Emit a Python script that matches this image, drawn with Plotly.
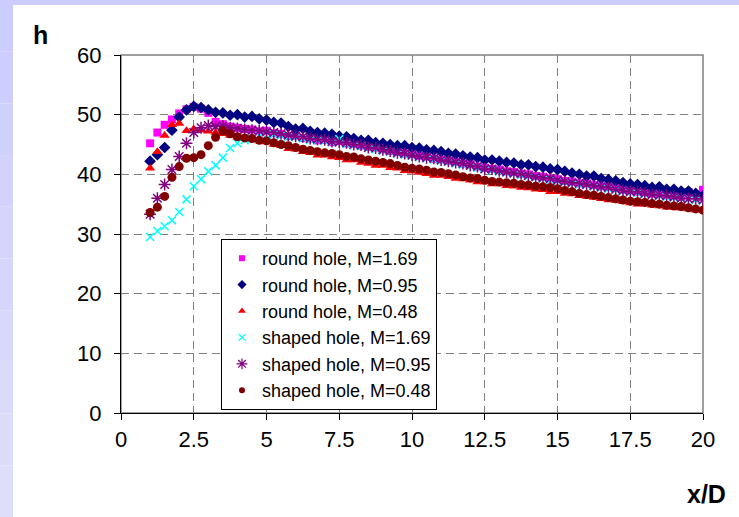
import plotly.graph_objects as go

# x/D positions (shared by all series)
x_over_D = [1.0 + 0.25 * i for i in range(77)]

round_169 = [45.2, 47.0, 48.3, 49.2,
             50.2, 50.9, 51.3, 51.0,
             50.3, 48.8, 48.4, 48.0,
             47.8, 47.6, 47.5, 47.2,
             47.3, 46.9, 46.8, 46.4,
             46.5, 46.1, 46.0, 45.7,
             45.8, 45.4, 45.6, 45.2,
             45.1, 44.8, 44.6, 44.5,
             44.2, 43.9, 43.8, 43.5,
             43.4, 43.1, 43.0, 42.6,
             42.5, 42.3, 42.1, 41.8,
             41.7, 41.3, 41.1, 40.9,
             40.8, 40.5, 40.4, 40.1,
             40.0, 39.7, 39.6, 39.3,
             39.2, 38.9, 38.8, 38.5,
             38.5, 38.2, 38.0, 37.9,
             37.7, 37.4, 37.4, 37.1,
             37.0, 36.8, 36.8, 36.5,
             36.4, 36.3, 37.0, 36.6,
             37.4]

round_095 = [42.2, 43.3, 44.5, 47.4,
             49.6, 50.8, 51.4, 51.2,
             50.8, 50.4, 50.3, 49.9,
             50.0, 49.6, 49.7, 49.3,
             49.1, 48.7, 48.6, 48.0,
             47.6, 47.7, 47.2, 47.0,
             46.9, 46.7, 46.4, 46.3,
             46.0, 45.7, 45.7, 45.3,
             45.2, 45.0, 44.8, 44.8,
             44.5, 44.4, 44.1, 44.0,
             43.8, 43.5, 43.4, 43.1,
             42.9, 42.8, 42.4, 42.4,
             42.2, 42.0, 41.9, 41.6,
             41.6, 41.3, 41.2, 40.9,
             40.8, 40.5, 40.2, 40.0,
             39.7, 39.7, 39.3, 39.1,
             38.9, 38.6, 38.4, 38.3,
             38.1, 37.8, 37.9, 37.5,
             37.5, 37.2, 37.2, 36.8,
             36.4]

round_048 = [41.0, 43.8, 46.5, 48.3,
             48.5, 47.3, 47.6, 47.4,
             47.2, 47.0, 46.8, 46.5,
             46.2, 46.0, 45.8, 45.6,
             45.4, 45.0, 44.8, 44.3,
             44.2, 43.8, 43.6, 43.2,
             43.2, 42.9, 42.8, 42.4,
             42.4, 42.0, 41.8, 41.5,
             41.5, 41.1, 41.0, 40.6,
             40.5, 40.3, 40.1, 39.8,
             39.8, 39.6, 39.3, 39.2,
             39.0, 38.7, 38.7, 38.4,
             38.4, 38.1, 38.0, 37.8,
             37.7, 37.5, 37.4, 37.1,
             37.1, 36.8, 36.7, 36.4,
             36.3, 36.1, 35.9, 35.7,
             35.6, 35.4, 35.2, 35.0,
             35.0, 34.8, 34.7, 34.5,
             34.5, 34.3, 34.2, 34.0,
             34.2]

shaped_169 = [29.5, 30.5, 31.3, 32.3,
              33.7, 35.8, 38.0, 39.2,
              40.5, 41.5, 42.8, 44.4,
              45.2, 45.7, 46.0, 46.4,
              46.6, 46.7, 46.5, 46.3,
              46.2, 46.0, 45.8, 45.7,
              45.6, 45.4, 45.9, 45.1,
              44.9, 44.7, 44.4, 44.2,
              44.0, 43.8, 43.5, 43.3,
              43.1, 42.9, 42.7, 42.5,
              42.3, 42.1, 41.8, 41.6,
              41.4, 41.1, 40.9, 40.7,
              40.5, 40.3, 40.1, 39.9,
              39.7, 39.5, 39.3, 39.1,
              38.9, 38.7, 38.5, 38.3,
              38.2, 38.0, 37.8, 37.6,
              37.4, 37.2, 37.0, 36.9,
              36.7, 36.6, 36.4, 36.2,
              36.1, 36.0, 35.8, 35.7,
              35.6]

shaped_095 = [33.3, 36.0, 38.3, 40.8,
              43.0, 45.2, 47.0, 47.8,
              48.2, 48.0, 48.1, 47.8,
              47.7, 47.5, 47.4, 47.3,
              47.1, 47.0, 46.8, 46.6,
              46.4, 46.3, 46.0, 45.9,
              45.8, 45.5, 45.4, 45.3,
              45.0, 44.9, 44.5, 44.4,
              44.1, 43.9, 43.6, 43.5,
              43.2, 43.0, 42.8, 42.7,
              42.4, 42.2, 42.0, 41.8,
              41.5, 41.3, 40.9, 40.9,
              40.6, 40.4, 40.2, 40.1,
              39.8, 39.6, 39.4, 39.3,
              39.0, 38.8, 38.6, 38.5,
              38.3, 38.1, 37.9, 37.8,
              37.5, 37.3, 37.1, 37.1,
              36.8, 36.6, 36.5, 36.4,
              36.2, 36.0, 35.9, 35.9,
              35.7]

shaped_048 = [33.6, 34.5, 36.3, 39.5,
              41.3, 42.7, 42.8, 43.3,
              44.8, 46.2, 47.3, 46.8,
              46.3, 46.1, 46.0, 45.7,
              45.6, 45.3, 45.0, 44.8,
              44.5, 44.2, 44.0, 43.8,
              43.6, 43.5, 43.3, 43.0,
              42.9, 42.6, 42.4, 42.2,
              42.0, 41.8, 41.5, 41.2,
              41.0, 40.9, 40.7, 40.4,
              40.3, 40.1, 39.9, 39.6,
              39.4, 39.3, 39.0, 38.8,
              38.7, 38.6, 38.5, 38.3,
              38.2, 38.0, 37.9, 37.8,
              37.6, 37.3, 37.1, 36.8,
              36.6, 36.5, 36.3, 36.1,
              35.9, 35.7, 35.5, 35.4,
              35.3, 35.1, 35.0, 34.8,
              34.7, 34.6, 34.4, 34.2,
              34.0]

series_names = ["round hole, M=1.69", "round hole, M=0.95", "round hole, M=0.48",
                "shaped hole, M=1.69", "shaped hole, M=0.95", "shaped hole, M=0.48"]
series_values = [round_169, round_095, round_048, shaped_169, shaped_095, shaped_048]
series_colors = ["#FF00FF", "#000080", "#FF0000", "#00FFFF", "#800080", "#800000"]
series_symbols = ["square", "diamond", "triangle-up", "x-thin-open", "asterisk-open", "circle"]
series_sizes = [8, 9, 9, 8, 10, 9]
legend_sizes = [6, 7, 7, 7, 9, 6]

x_ticks = [0, 2.5, 5, 7.5, 10, 12.5, 15, 17.5, 20]
x_tick_labels = ["0", "2.5", "5", "7.5", "10", "12.5", "15", "17.5", "20"]
y_ticks = [0, 10, 20, 30, 40, 50, 60]

W, H = 739, 517
L, R, T, B = 121, 703, 55, 413

fig = go.Figure()
for name, vals, col, sym, sz in zip(series_names, series_values, series_colors,
                                    series_symbols, series_sizes):
    fig.add_trace(go.Scatter(
        x=x_over_D, y=vals, mode="markers", name=name, legendgroup=name,
        showlegend=False,
        marker=dict(color=col, symbol=sym, size=sz,
                    line=dict(color=col, width=1.5 if "open" in sym else 0)),
    ))
# legend entries with smaller symbols
for name, col, sym, lsz in zip(series_names, series_colors, series_symbols, legend_sizes):
    fig.add_trace(go.Scatter(
        x=[None], y=[None], mode="markers", name=name, legendgroup=name,
        marker=dict(color=col, symbol=sym, size=lsz,
                    line=dict(color=col, width=1.2 if "open" in sym else 0)),
    ))

def px_x(p):
    return (p - L) / (R - L)

def px_y(p):
    return (B - p) / (B - T)

shapes = []
# lavender strips (left with gradient, top)
n = 10
for i in range(n):
    y0p = H * i / n
    y1p = H * (i + 1) / n
    t = i / (n - 1)
    r = int(0xCC + (0xDE - 0xCC) * t)
    g = int(0xCC + (0xDE - 0xCC) * t)
    b = int(0xFF + (0xFA - 0xFF) * t)
    shapes.append(dict(type="rect", xref="paper", yref="paper",
                       x0=px_x(0), x1=px_x(13), y0=px_y(y1p), y1=px_y(y0p),
                       fillcolor=f"rgb({r},{g},{b})", line=dict(width=0), layer="below"))
shapes.append(dict(type="rect", xref="paper", yref="paper",
                   x0=px_x(0), x1=px_x(W), y0=px_y(5), y1=px_y(0),
                   fillcolor="#CCCCFF", line=dict(width=0), layer="below"))
# plot frame (gray)
shapes.append(dict(type="rect", xref="paper", yref="paper", x0=0, x1=1, y0=0, y1=1,
                   line=dict(color="#808080", width=1.5), fillcolor="rgba(0,0,0,0)",
                   layer="below"))

fig.update_layout(
    width=W, height=H,
    margin=dict(l=L, r=W - R, t=T, b=H - B),
    paper_bgcolor="white", plot_bgcolor="white",
    font=dict(family="Liberation Sans, Arial, sans-serif", color="black"),
    shapes=shapes,
    showlegend=True,
    legend=dict(x=px_x(221), y=px_y(239), xanchor="left", yanchor="top",
                bgcolor="white", bordercolor="black", borderwidth=1,
                font=dict(size=18, family="Liberation Sans, Arial, sans-serif"),
                itemsizing="trace", tracegroupgap=0, itemwidth=30),
    annotations=[
        dict(text="<b>h</b>", xref="paper", yref="paper", x=px_x(40), y=px_y(35),
             showarrow=False, font=dict(size=25), xanchor="center", yanchor="middle"),
        dict(text="<b>x/D</b>", xref="paper", yref="paper", x=px_x(706), y=px_y(494),
             showarrow=False, font=dict(size=25), xanchor="center", yanchor="middle"),
    ],
)

fig.update_xaxes(range=[0, 20], tickvals=x_ticks, ticktext=x_tick_labels,
                 showgrid=True, gridcolor="#808080", griddash="8px,5px", gridwidth=1,
                 zeroline=False, showline=True, linecolor="black", linewidth=1,
                 ticks="outside", ticklen=6, tickcolor="black",
                 tickfont=dict(size=22), ticklabelstandoff=1)
fig.update_yaxes(range=[0, 60], tickvals=y_ticks,
                 showgrid=True, gridcolor="#808080", griddash="8px,5px", gridwidth=1,
                 zeroline=False, showline=True, linecolor="black", linewidth=1,
                 ticks="outside", ticklen=6, tickcolor="black",
                 tickfont=dict(size=22), ticklabelstandoff=8)

fig.write_html("out.html")
